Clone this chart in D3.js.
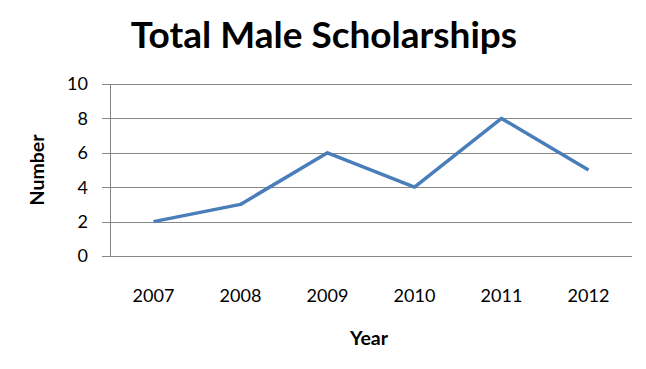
<!DOCTYPE html>
<html><head><meta charset="utf-8">
<script src="https://cdn.jsdelivr.net/npm/d3@7"></script>
<style>body{margin:0;background:#fff}svg{display:block}</style>
</head><body>
<svg id="c" width="646" height="369"></svg>
<script>
const title = "Total Male Scholarships";
const xTitle = "Year";
const yTitle = "Number";
const years = ["2007","2008","2009","2010","2011","2012"];
const values = [2,3,6,4,8,5];
const yTicks = [0,2,4,6,8,10];

const svg = d3.select("#c");
const m = {left:110, right:632, top:84, bottom:256};
const x = d3.scaleBand().domain(years).range([m.left, m.right]);
const y = d3.scaleLinear().domain([0,10]).range([m.bottom, m.top]);
const font = "Lato, 'Open Sans', sans-serif";

svg.append("rect").attr("width",646).attr("height",369).attr("fill","#fff");

// gridlines
svg.append("g").selectAll("line").data(yTicks).join("line")
  .attr("x1", m.left - 8).attr("x2", m.right)
  .attr("y1", d => Math.round(y(d))+0.5).attr("y2", d => Math.round(y(d))+0.5)
  .attr("stroke", "#868686").attr("stroke-width", 1);

// y axis line
svg.append("line").attr("x1", m.left+0.5).attr("x2", m.left+0.5)
  .attr("y1", m.top).attr("y2", m.bottom).attr("stroke","#868686");

// y tick labels
svg.append("g").selectAll("text").data(yTicks).join("text")
  .attr("x", 88).attr("y", d => y(d)).attr("dy","0.36em")
  .attr("text-anchor","end").attr("font-family",font).attr("font-size",18)
  .attr("fill","#000").text(d => d);

// x tick labels
svg.append("g").selectAll("text").data(years).join("text")
  .attr("x", d => x(d) + x.bandwidth()/2).attr("y", 302)
  .attr("text-anchor","middle").attr("font-family",font).attr("font-size",18)
  .attr("fill","#000").text(d => d);

// line
const line = d3.line().x((d,i) => x(years[i]) + x.bandwidth()/2).y(d => y(d));
svg.append("path").datum(values).attr("d", line)
  .attr("fill","none").attr("stroke","#4a7ebb").attr("stroke-width",3.5)
  .attr("stroke-linejoin","round");

// title
svg.append("text").attr("x", 324).attr("y", 48).attr("text-anchor","middle")
  .attr("font-family",font).attr("font-weight","bold").attr("font-size",37)
  .attr("fill","#000").text(title);

// axis titles
svg.append("text").attr("x", 369).attr("y", 345).attr("text-anchor","middle")
  .attr("font-family",font).attr("font-weight","bold").attr("font-size",19.5)
  .attr("fill","#000").text(xTitle);
svg.append("text").attr("transform","translate(44,170) rotate(-90)")
  .attr("text-anchor","middle")
  .attr("font-family",font).attr("font-weight","bold").attr("font-size",19.5)
  .attr("fill","#000").text(yTitle);
</script>
</body></html>
